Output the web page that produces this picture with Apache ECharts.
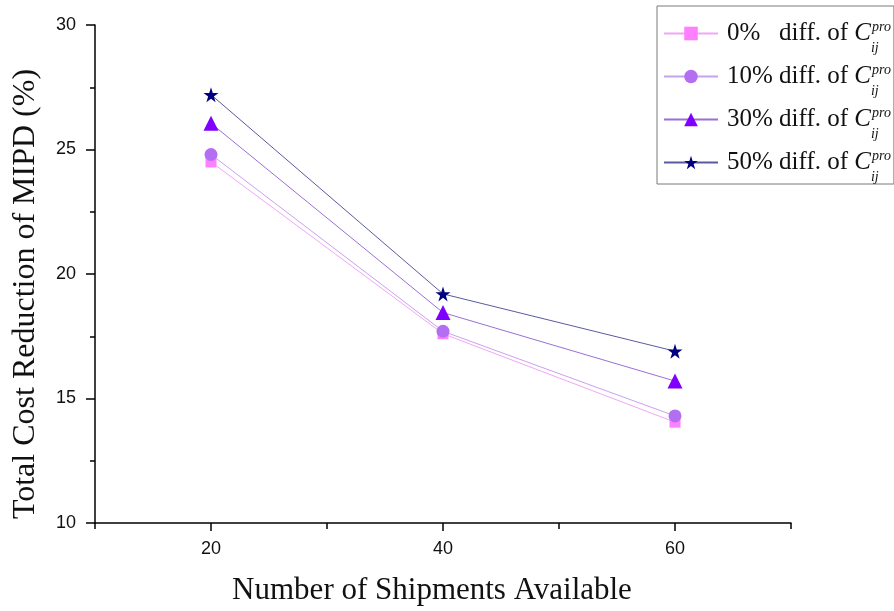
<!DOCTYPE html>
<html>
<head>
<meta charset="utf-8">
<script src="https://cdn.jsdelivr.net/npm/echarts@6/dist/echarts.min.js"></script>
<style>
  html, body { margin: 0; padding: 0; background: #fff; }
  #chart { width: 894px; height: 611px; }
</style>
</head>
<body>
<div id="chart"></div>
<script>
// Shipments available (x) and total cost reduction (%) per price-difference level
const shipments = [20, 40, 60];
const diff0 = [24.5, 17.6, 14.05];
const diff10 = [24.8, 17.7, 14.3];
const diff30 = [26.05, 18.45, 15.7];
const diff50 = [27.2, 19.2, 16.9];

const seriesNames = ['0%', '10%', '30%', '50%'];
const xLabelValues = [20, 40, 60];
const xMinorTickValues = [10, 30, 50, 70];

const STAR = 'path://M50,0 L61.2,34.5 L97.6,34.5 L68.2,55.9 L79.4,90.5 L50,69.1 L20.6,90.5 L31.8,55.9 L2.4,34.5 L38.8,34.5 Z';

const serif = '"Liberation Serif", "Times New Roman", serif';
const sans = '"Liberation Sans", Arial, sans-serif';

function pairs(values) {
  return shipments.map((x, i) => [x, values[i]]);
}

const styles = [
  { marker: 'rect', size: 11, color: '#ff80ff', line: '#f4a6f4' },
  { marker: 'circle', size: 13, color: '#b46ef2', line: '#c7a2ef' },
  { marker: 'triangle', size: 15, color: '#8000ff', line: '#9b6fd6' },
  { marker: STAR, size: 15, color: '#000080', line: '#5a5aa0' }
];
const valueSets = [diff0, diff10, diff30, diff50];

const series = seriesNames.map((name, i) => ({
  name: name,
  type: 'line',
  data: pairs(valueSets[i]),
  symbol: styles[i].marker,
  symbolSize: styles[i].size,
  itemStyle: { color: styles[i].color },
  lineStyle: { color: styles[i].line, width: 1 },
  z: 2 + i
}));

const chart = echarts.init(document.getElementById('chart'), null, { renderer: 'canvas' });
chart.setOption({
  animation: false,
  backgroundColor: '#fff',
  grid: { left: 95, top: 25, width: 696, height: 502, containLabel: false },
  legend: {
    orient: 'vertical',
    left: 657,
    top: 6,
    padding: [6, 3, 0, 6],
    borderColor: '#7a7a7a',
    borderWidth: 1,
    itemWidth: 54,
    itemHeight: 17,
    itemGap: 0,
    data: seriesNames,
    formatter: function (name) {
      // single-digit label gets a wider gap so the rows line up
      const gap = name === '0%' ? '\u2002 ' : ' ';
      return '{t|' + name + gap + 'diff. of }{c|C}{sub|ij}{sup|pro}';
    },
    textStyle: {
      rich: {
        t: { fontFamily: serif, fontSize: 25, color: '#111', lineHeight: 43, verticalAlign: 'middle', padding: [0, 0, 0, 4] },
        c: { fontFamily: serif, fontSize: 25, fontStyle: 'italic', color: '#111', lineHeight: 43, verticalAlign: 'middle' },
        sup: { fontFamily: serif, fontSize: 14, fontStyle: 'italic', color: '#111', lineHeight: 14, verticalAlign: 'top', padding: [8, 0, 0, 0] },
        sub: { fontFamily: serif, fontSize: 14, fontStyle: 'italic', color: '#111', lineHeight: 10, verticalAlign: 'bottom', width: 1 }
      }
    }
  },
  xAxis: [
    {
      type: 'value',
      min: 10,
      max: 70,
      interval: 10,
      name: 'Number of Shipments Available',
      nameLocation: 'middle',
      nameGap: 52,
      nameTextStyle: { fontFamily: serif, fontSize: 31, color: '#111', padding: [0, 22, 0, 0] },
      axisLine: { onZero: false, lineStyle: { color: '#000', width: 1.5 } },
      axisTick: { customValues: xLabelValues, length: 8, lineStyle: { color: '#000', width: 1.5 } },
      axisLabel: { customValues: xLabelValues, fontFamily: sans, fontSize: 18, color: '#111', margin: 17 },
      splitLine: { show: false }
    },
    {
      type: 'value',
      min: 10,
      max: 70,
      interval: 10,
      position: 'bottom',
      axisLine: { show: false, onZero: false },
      axisTick: { customValues: xMinorTickValues, length: 6, lineStyle: { color: '#000', width: 1.5 } },
      axisLabel: { show: false },
      splitLine: { show: false }
    }
  ],
  yAxis: {
    type: 'value',
    min: 10,
    max: 30,
    interval: 5,
    name: 'Total Cost Reduction of MIPD (%)',
    nameLocation: 'middle',
    nameGap: 53,
    nameTextStyle: { fontFamily: serif, fontSize: 32, color: '#111', padding: [0, 40, 0, 0] },
    axisLine: { show: true, lineStyle: { color: '#000', width: 1.5 } },
    axisTick: { show: true, length: 9, lineStyle: { color: '#000', width: 1.5 } },
    minorTick: { show: true, splitNumber: 2, length: 5, lineStyle: { color: '#000', width: 1.5 } },
    axisLabel: { fontFamily: sans, fontSize: 18, color: '#111', margin: 19 },
    splitLine: { show: false }
  },
  series: series
});
</script>
</body>
</html>
